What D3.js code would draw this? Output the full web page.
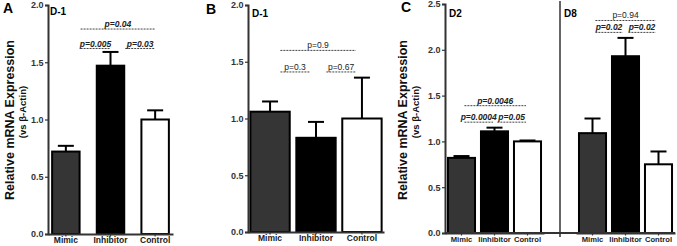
<!DOCTYPE html>
<html>
<head>
<meta charset="utf-8">
<script src="https://cdn.jsdelivr.net/npm/d3@7"></script>
<style>
  body { margin: 0; background: #fff; }
  svg { display: block; font-family: "Liberation Sans", Arial, sans-serif; }
</style>
</head>
<body>
<div id="chart"></div>
<script>
// data
var categories = ["Mimic", "Inhibitor", "Control"];
var categoriesC = ["Mimic", "Iinhibitor", "Control"];
var fills = ["#353535", "#000000", "#ffffff"];

var meanA = [0.72, 1.47, 1.00];
var semA = [0.05, 0.12, 0.08];
var meanB = [1.06, 0.83, 1.00];
var semB = [0.09, 0.14, 0.36];
var meanD2 = [0.82, 1.11, 1.00];
var semD2 = [0.02, 0.04, 0.01];
var meanD8 = [1.09, 1.93, 0.75];
var semD8 = [0.16, 0.20, 0.14];

var ticks2 = [0, 0.5, 1.0, 1.5, 2.0];
var ticks25 = [0, 0.5, 1.0, 1.5, 2.0, 2.5];

// significance brackets: a -> b, level in y units
var pA = [{a: 0, b: 1, lv: 1.62, t: "p=0.005", bold: true},
          {a: 1, b: 2, lv: 1.62, t: "p=0.03", bold: true},
          {a: 0, b: 2, lv: 1.79, t: "p=0.04", bold: true}];
var pB = [{a: 0, b: 1, lv: 1.41, t: "p=0.3", bold: false},
          {a: 1, b: 2, lv: 1.41, t: "p=0.67", bold: false},
          {a: 0, b: 2, lv: 1.60, t: "p=0.9", bold: false}];
var pD2 = [{a: 0, b: 1, lv: 1.21, t: "p=0.0004", bold: true},
           {a: 1, b: 2, lv: 1.21, t: "p=0.05", bold: true},
           {a: 0, b: 2, lv: 1.39, t: "p=0.0046", bold: true}];
var pD8 = [{a: 0, b: 1, lv: 2.19, t: "p=0.02", bold: true},
           {a: 1, b: 2, lv: 2.19, t: "p=0.02", bold: true},
           {a: 0, b: 2, lv: 2.32, t: "p=0.94", bold: false}];

var W = 677, H = 246;
var svg = d3.select("#chart").append("svg").attr("width", W).attr("height", H);

function yAxis(y, x0, ticks) {
  var g = svg.append("g").attr("transform", "translate(" + x0 + ",0)")
    .call(d3.axisLeft(y).tickValues(ticks).tickFormat(d3.format(".1f")).tickSize(3).tickPadding(1.5));
  g.select(".domain").attr("stroke", "#333").attr("stroke-width", 2);
  g.selectAll(".tick line").attr("stroke", "#333").attr("stroke-width", 1.2);
  g.selectAll("text").attr("font-size", 9).attr("font-weight", "bold").attr("fill", "#333");
}

function xAxis(x, y0, labels, fs) {
  var g = svg.append("g").attr("transform", "translate(0," + y0 + ")")
    .call(d3.axisBottom(x).tickSize(2.5).tickPadding(0.8).tickSizeOuter(0).tickFormat(function(d, i) { return labels[i]; }));
  g.select(".domain").attr("stroke", "#333").attr("stroke-width", 2);
  g.selectAll(".tick line").attr("stroke", "#333").attr("stroke-width", 1.2);
  g.selectAll("text").attr("font-size", fs).attr("font-weight", "bold").attr("fill", "#222");
}

function bars(x, y, mean, sem) {
  var idx = d3.range(mean.length);
  // error bars first (upper only), bars cover the lower part
  svg.append("g").selectAll("line.err").data(idx).join("line")
    .attr("x1", function(i) { return x(i) + x.bandwidth() / 2; })
    .attr("x2", function(i) { return x(i) + x.bandwidth() / 2; })
    .attr("y1", function(i) { return y(mean[i]); })
    .attr("y2", function(i) { return y(mean[i] + sem[i]); })
    .attr("stroke", "#000").attr("stroke-width", 2);
  svg.append("g").selectAll("line.cap").data(idx).join("line")
    .attr("x1", function(i) { return x(i) + x.bandwidth() / 2 - 8; })
    .attr("x2", function(i) { return x(i) + x.bandwidth() / 2 + 8; })
    .attr("y1", function(i) { return y(mean[i] + sem[i]); })
    .attr("y2", function(i) { return y(mean[i] + sem[i]); })
    .attr("stroke", "#000").attr("stroke-width", 2);
  svg.append("g").selectAll("rect").data(idx).join("rect")
    .attr("x", function(i) { return x(i) + 1; })
    .attr("width", x.bandwidth() - 2)
    .attr("y", function(i) { return y(mean[i]); })
    .attr("height", function(i) { return y(0) - y(mean[i]); })
    .attr("fill", function(i) { return fills[i]; })
    .attr("stroke", "#000").attr("stroke-width", 2);
}

// f0 / f1: where a line starts in bar a and ends in bar b (share of band)
function brackets(x, y, list, f0, f1) {
  var g = svg.append("g"), bw = x.bandwidth();
  list.forEach(function(p) {
    var xa = x(p.a) + bw * f0, xb = x(p.b) + bw * f1;
    g.append("line").attr("x1", xa).attr("x2", xb).attr("y1", y(p.lv)).attr("y2", y(p.lv))
      .attr("stroke", "#444").attr("stroke-width", 1).attr("stroke-dasharray", "2,1");
    g.append("text").attr("x", (xa + xb) / 2).attr("y", y(p.lv) - 2)
      .attr("text-anchor", "middle").attr("font-size", 8.5)
      .attr("font-weight", p.bold ? "bold" : "normal")
      .attr("font-style", p.bold ? "italic" : "normal")
      .attr("fill", "#222").text(p.t);
  });
}

function label(x, y, t, size) {
  svg.append("text").attr("x", x).attr("y", y).attr("font-size", size)
    .attr("font-weight", "bold").attr("fill", "#000").text(t);
}

function yTitle(cx, cy) {
  svg.append("text").attr("transform", "translate(" + cx + "," + cy + ") rotate(-90)")
    .attr("text-anchor", "middle").attr("font-size", 12.5).attr("font-weight", "bold").attr("fill", "#111")
    .text("Relative mRNA Expression");
  svg.append("text").attr("transform", "translate(" + (cx + 12) + "," + (cy - 8) + ") rotate(-90)")
    .attr("text-anchor", "middle").attr("font-size", 9.5).attr("font-weight", "bold").attr("fill", "#111")
    .text("(vs \u03b2-Actin)");
}

// panel A
var xA = d3.scaleBand().domain(d3.range(3)).range([48, 173]).paddingInner(0.34).paddingOuter(0.07);
var yA = d3.scaleLinear().domain([0, 2]).range([234, 5]);
bars(xA, yA, meanA, semA);
brackets(xA, yA, pA, 1.0, 0.5);
yAxis(yA, 48, ticks2);
xAxis(xA, 234, categories, 8.5);
label(3, 13, "A", 14);
label(50, 15, "D-1", 10);
yTitle(14, 120);

// panel B
var xB = d3.scaleBand().domain(d3.range(3)).range([248, 384]).paddingInner(0.1).paddingOuter(0.03);
var yB = d3.scaleLinear().domain([0, 2]).range([232, 5]);
bars(xB, yB, meanB, semB);
brackets(xB, yB, pB, 0.75, 0.35);
yAxis(yB, 248, ticks2);
xAxis(xB, 232, categories, 8.5);
label(206, 14, "B", 14);
label(252, 17, "D-1", 10);

// panel C
var yC = d3.scaleLinear().domain([0, 2.5]).range([233, 4]);
var xD2 = d3.scaleBand().domain(d3.range(3)).range([445, 544]).paddingInner(0.12).paddingOuter(0.06);
var xD8 = d3.scaleBand().domain(d3.range(3)).range([576, 675]).paddingInner(0.12).paddingOuter(0.06);
bars(xD2, yC, meanD2, semD2);
bars(xD8, yC, meanD8, semD8);
brackets(xD2, yC, pD2, 0.6, 0.45);
brackets(xD8, yC, pD8, 0.6, 0.4);
svg.append("line").attr("x1", 445).attr("x2", 675).attr("y1", 233).attr("y2", 233)
  .attr("stroke", "#333").attr("stroke-width", 2);
xAxis(xD2, 233, categoriesC, 7.6);
xAxis(xD8, 233, categoriesC, 7.6);
yAxis(yC, 445, ticks25);
svg.append("line").attr("x1", 560).attr("x2", 560).attr("y1", 1).attr("y2", 237)
  .attr("stroke", "#333").attr("stroke-width", 1.5);
label(401, 12, "C", 14);
label(449, 17, "D2", 10);
label(564, 17, "D8", 10);
yTitle(407, 120);
</script>
</body>
</html>
